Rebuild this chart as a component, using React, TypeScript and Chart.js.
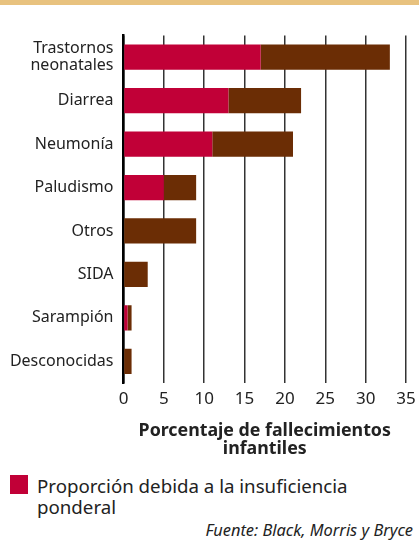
import React, { useEffect, useRef } from "react";
import { Chart, registerables } from "chart.js";

Chart.register(...registerables);

const categories: string[][] = [
  ["Trastornos", "neonatales"],
  ["Diarrea"],
  ["Neumonía"],
  ["Paludismo"],
  ["Otros"],
  ["SIDA"],
  ["Sarampión"],
  ["Desconocidas"],
];
const totalShare = [33, 22, 21, 9, 9, 3, 1, 1];
const underweightShare = [17, 13, 11, 5, 0, 0, 0.5, 0];
const otherShare = totalShare.map((t, i) => t - underweightShare[i]);
const xTicks = [0, 5, 10, 15, 20, 25, 30, 35];

const RED = "#c10037";
const BROWN = "#6b2d05";
const TEXT = "#222222";
const FONT = "'Noto Sans', sans-serif";

export default function App() {
  const ref = useRef<HTMLCanvasElement | null>(null);
  useEffect(() => {
    if (!ref.current) return;
    const chart = new Chart(ref.current, {
      type: "bar",
      data: {
        labels: categories,
        datasets: [
          {
            label: "Proporción debida a la insuficiencia ponderal",
            data: underweightShare,
            backgroundColor: RED,
            borderWidth: 0,
            barPercentage: 0.58,
            categoryPercentage: 1,
          },
          {
            label: "Resto",
            data: otherShare,
            backgroundColor: BROWN,
            borderWidth: 0,
            barPercentage: 0.58,
            categoryPercentage: 1,
          },
        ],
      },
      options: {
        indexAxis: "y",
        animation: false,
        responsive: false,
        maintainAspectRatio: false,
        layout: { padding: { top: 35.5, right: 13, left: 0, bottom: 0 } },
        plugins: {
          legend: { display: false },
          tooltip: { enabled: false },
        },
        scales: {
          x: {
            stacked: true,
            min: 0,
            max: 35,
            afterBuildTicks: (scale: any) => {
              scale.ticks = xTicks.map((v) => ({ value: v }));
            },
            afterFit: (scale: any) => {
              scale.height = 77;
              scale.paddingRight = 0;
              scale.paddingLeft = 0;
            },
            grid: {
              color: "#333333",
              lineWidth: 1.5,
              drawTicks: false,
            },
            border: { display: false },
            ticks: {
              color: TEXT,
              padding: 6,
              font: { family: FONT, size: 17 },
            },
            title: {
              display: true,
              text: ["Porcentaje de fallecimientos", "infantiles"],
              color: TEXT,
              font: { family: FONT, size: 17.8, weight: "bold", lineHeight: 1.0 },
              padding: { top: 0, bottom: 2 },
            },
          },
          y: {
            stacked: true,
            afterFit: (scale: any) => {
              scale.width = 123.5;
            },
            grid: { display: false, drawTicks: false },
            border: { display: true, color: "#000000", width: 2.5 },
            ticks: {
              color: TEXT,
              padding: 10,
              font: { family: FONT, size: 16, lineHeight: 1.05 },
            },
          },
        },
      },
    });
    return () => chart.destroy();
  }, []);

  return (
    <div
      style={{
        position: "absolute",
        left: 0,
        top: 0,
        width: 419,
        height: 544,
        background: "#ffffff",
        overflow: "hidden",
        fontFamily: FONT,
        color: TEXT,
      }}
    >
      <canvas
        ref={ref}
        width={419}
        height={460}
        style={{ position: "absolute", left: 0, top: 0, width: 419, height: 460 }}
      />
      <div
        style={{
          position: "absolute",
          left: 0,
          top: 0,
          width: 419,
          height: 5,
          background: "#e8c27f",
        }}
      />
      <div
        style={{
          position: "absolute",
          left: 10,
          top: 475,
          width: 18,
          height: 19,
          background: RED,
        }}
      />
      <div
        style={{
          position: "absolute",
          left: 37,
          top: 475,
          width: 380,
          fontSize: 18.7,
          lineHeight: "21px",
          whiteSpace: "nowrap",
        }}
      >
        Proporción debida a la insuficiencia
        <br />
        ponderal
      </div>
      <div
        style={{
          position: "absolute",
          right: 6,
          top: 520,
          fontSize: 16.4,
          fontStyle: "italic",
          lineHeight: "20px",
          whiteSpace: "nowrap",
        }}
      >
        Fuente: Black, Morris y Bryce
      </div>
    </div>
  );
}
